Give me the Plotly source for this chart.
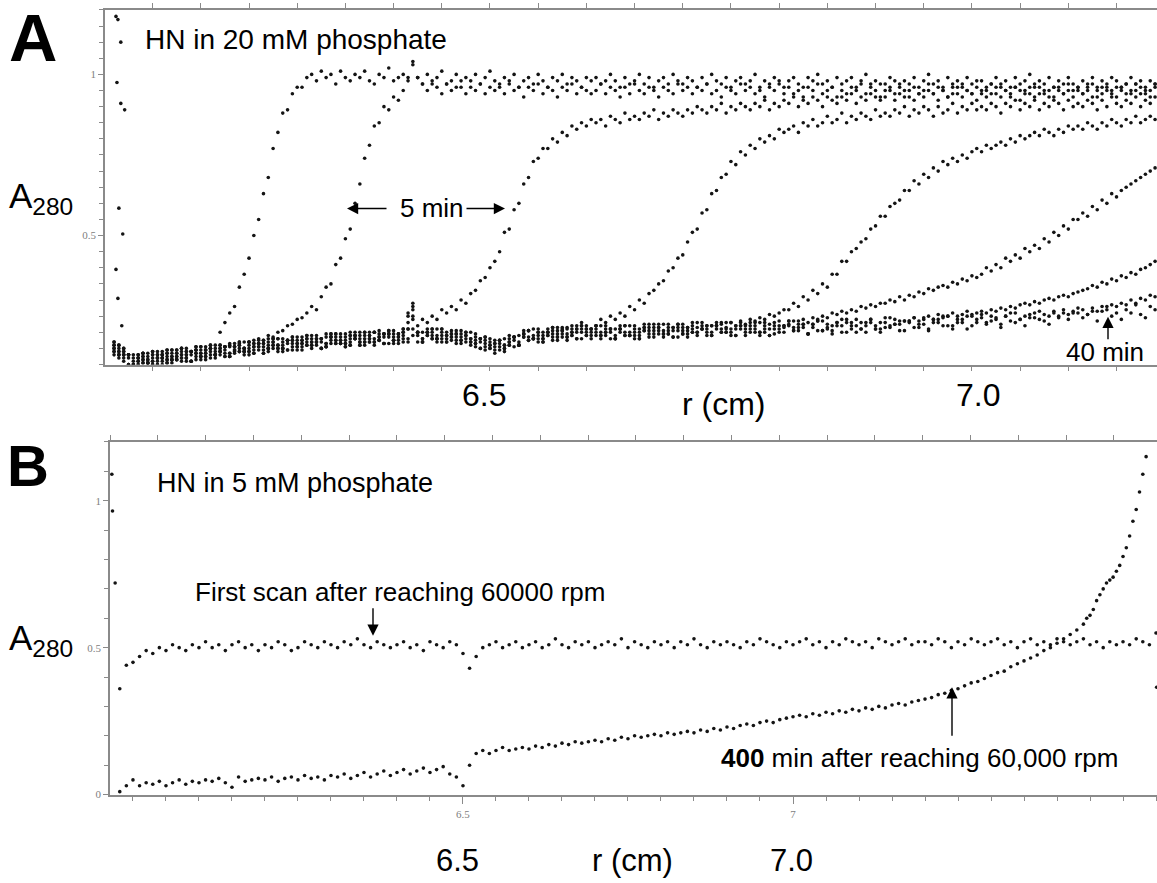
import plotly.graph_objects as go

W, H = 1157, 883

# ---------------- Panel A : HN in 20 mM phosphate (scans every 5 min) ----------------
r_grid_a = [
    6.110, 6.115, 6.120, 6.125, 6.130, 6.135, 6.140, 6.145, 6.150, 6.155, 6.160, 6.165, 6.170, 6.175, 6.180, 6.185, 6.190, 6.195, 6.200, 6.205,
    6.210, 6.215, 6.220, 6.225, 6.230, 6.235, 6.240, 6.245, 6.250, 6.255, 6.260, 6.265, 6.270, 6.275, 6.280, 6.285, 6.290, 6.295, 6.300, 6.305,
    6.310, 6.315, 6.320, 6.325, 6.330, 6.335, 6.340, 6.345, 6.350, 6.355, 6.360, 6.365, 6.370, 6.375, 6.380, 6.385, 6.390, 6.395, 6.400, 6.405,
    6.410, 6.415, 6.420, 6.425, 6.430, 6.435, 6.440, 6.445, 6.450, 6.455, 6.460, 6.465, 6.470, 6.475, 6.480, 6.485, 6.490, 6.495, 6.500, 6.505,
    6.510, 6.515, 6.520, 6.525, 6.530, 6.535, 6.540, 6.545, 6.550, 6.555, 6.560, 6.565, 6.570, 6.575, 6.580, 6.585, 6.590, 6.595, 6.600, 6.605,
    6.610, 6.615, 6.620, 6.625, 6.630, 6.635, 6.640, 6.645, 6.650, 6.655, 6.660, 6.665, 6.670, 6.675, 6.680, 6.685, 6.690, 6.695, 6.700, 6.705,
    6.710, 6.715, 6.720, 6.725, 6.730, 6.735, 6.740, 6.745, 6.750, 6.755, 6.760, 6.765, 6.770, 6.775, 6.780, 6.785, 6.790, 6.795, 6.800, 6.805,
    6.810, 6.815, 6.820, 6.825, 6.830, 6.835, 6.840, 6.845, 6.850, 6.855, 6.860, 6.865, 6.870, 6.875, 6.880, 6.885, 6.890, 6.895, 6.900, 6.905,
    6.910, 6.915, 6.920, 6.925, 6.930, 6.935, 6.940, 6.945, 6.950, 6.955, 6.960, 6.965, 6.970, 6.975, 6.980, 6.985, 6.990, 6.995, 7.000, 7.005,
    7.010, 7.015, 7.020, 7.025, 7.030, 7.035, 7.040, 7.045, 7.050, 7.055, 7.060, 7.065, 7.070, 7.075, 7.080, 7.085, 7.090, 7.095, 7.100, 7.105,
    7.110, 7.115, 7.120, 7.125, 7.130, 7.135, 7.140, 7.145, 7.150, 7.155, 7.160, 7.165, 7.170, 7.175, 7.180, 7.185, 7.190,
]

a_scan_00 = [
    0.16, 0.13, 0.15, 0.12, 0.09, 0.12, 0.105, 0.135, 0.11, 0.12, 0.13, 0.105, 0.135, 0.125, 0.15, 0.12, 0.11, 0.145, 0.135, 0.125,
    0.15, 0.13, 0.20, 0.23, 0.26, 0.28, 0.34, 0.38, 0.43, 0.50, 0.55, 0.63, 0.68, 0.77, 0.82, 0.88, 0.89, 0.94, 0.96, 0.96,
    0.99, 1.00, 0.98, 1.01, 0.99, 1.00, 0.97, 1.01, 0.99, 0.98, 1.00, 0.99, 1.01, 0.98, 0.97, 1.00, 0.99, 1.02, 0.98, 0.99,
    1.00, 0.98, 1.03, 0.99, 0.97, 1.00, 0.98, 0.99, 1.01, 0.97, 0.98, 1.00, 0.96, 0.99, 0.98, 1.00, 0.97, 0.99, 1.01, 0.98,
    0.97, 0.99, 0.98, 1.00, 0.96, 0.98, 0.99, 0.97, 1.00, 0.98, 0.96, 0.99, 0.98, 1.00, 0.97, 0.99, 0.98, 0.96, 0.99, 0.98,
    0.99, 0.97, 0.98, 1.00, 0.98, 0.96, 0.99, 0.97, 0.98, 1.00, 0.97, 0.99, 0.96, 0.98, 0.99, 0.97, 1.00, 0.98, 0.97, 0.99,
    0.98, 0.96, 0.99, 0.97, 1.00, 0.98, 0.97, 0.99, 0.96, 0.98, 0.99, 0.97, 0.98, 1.00, 0.96, 0.98, 0.97, 0.99, 0.98, 0.96,
    0.98, 0.99, 0.97, 0.96, 0.99, 0.98, 1.00, 0.97, 0.98, 0.96, 0.99, 0.97, 0.98, 0.99, 0.96, 0.98, 1.00, 0.97, 0.98, 0.97,
    0.97, 0.99, 0.98, 0.96, 0.98, 0.97, 0.99, 0.96, 0.98, 1.00, 0.97, 0.98, 0.96, 0.99, 0.97, 0.98, 0.96, 0.99, 0.97, 0.98,
    0.98, 0.96, 0.97, 0.99, 0.97, 0.98, 0.96, 0.99, 0.97, 0.98, 1.00, 0.96, 0.98, 0.97, 0.99, 0.96, 0.98, 0.97, 0.99, 0.97,
    0.96, 0.98, 0.97, 0.99, 0.96, 0.98, 0.97, 0.99, 0.98, 0.96, 0.97, 0.99, 0.97, 0.98, 0.96, 0.98, 0.97,
]

a_scan_05 = [
    0.14, 0.16, 0.13, 0.10, 0.12, 0.12, 0.105, 0.115, 0.14, 0.10, 0.12, 0.135, 0.115, 0.145, 0.12, 0.13, 0.14, 0.115, 0.155, 0.135,
    0.15, 0.13, 0.15, 0.135, 0.16, 0.14, 0.165, 0.15, 0.17, 0.165, 0.18, 0.175, 0.19, 0.185, 0.20, 0.205, 0.22, 0.225, 0.24, 0.245,
    0.26, 0.28, 0.27, 0.31, 0.34, 0.35, 0.41, 0.43, 0.49, 0.52, 0.60, 0.66, 0.74, 0.78, 0.84, 0.85, 0.90, 0.89, 0.93, 0.92,
    0.95, 0.99, 1.04, 0.99, 0.97, 0.95, 0.97, 0.96, 0.94, 0.97, 0.95, 0.96, 0.98, 0.94, 0.96, 0.95, 0.97, 0.94, 0.96, 0.95,
    0.96, 0.94, 0.97, 0.95, 0.96, 0.93, 0.96, 0.95, 0.97, 0.94, 0.96, 0.95, 0.93, 0.96, 0.95, 0.97, 0.94, 0.96, 0.95, 0.94,
    0.95, 0.97, 0.94, 0.96, 0.95, 0.93, 0.96, 0.94, 0.97, 0.95, 0.94, 0.96, 0.95, 0.93, 0.96, 0.95, 0.94, 0.97, 0.95, 0.96,
    0.94, 0.96, 0.95, 0.97, 0.94, 0.95, 0.93, 0.96, 0.95, 0.94, 0.97, 0.95, 0.96, 0.94, 0.95, 0.93, 0.96, 0.95, 0.97, 0.94,
    0.96, 0.94, 0.95, 0.93, 0.96, 0.95, 0.97, 0.94, 0.95, 0.96, 0.93, 0.95, 0.94, 0.96, 0.95, 0.97, 0.94, 0.96, 0.95, 0.93,
    0.95, 0.96, 0.94, 0.97, 0.95, 0.93, 0.96, 0.94, 0.95, 0.97, 0.94, 0.96, 0.95, 0.93, 0.96, 0.94, 0.97, 0.95, 0.94, 0.96,
    0.94, 0.95, 0.97, 0.94, 0.96, 0.95, 0.93, 0.96, 0.95, 0.94, 0.96, 0.97, 0.94, 0.95, 0.93, 0.96, 0.95, 0.94, 0.97, 0.95,
    0.96, 0.94, 0.95, 0.97, 0.93, 0.96, 0.95, 0.94, 0.96, 0.95, 0.97, 0.94, 0.95, 0.96, 0.94, 0.95, 0.97,
]

a_scan_10 = [
    0.15, 0.12, 0.14, 0.13, 0.10, 0.13, 0.115, 0.105, 0.10, 0.13, 0.14, 0.115, 0.125, 0.135, 0.12, 0.15, 0.11, 0.135, 0.145, 0.145,
    0.16, 0.14, 0.13, 0.155, 0.125, 0.145, 0.17, 0.14, 0.16, 0.145, 0.155, 0.175, 0.14, 0.17, 0.16, 0.15, 0.175, 0.185, 0.155, 0.145,
    0.18, 0.16, 0.19, 0.17, 0.155, 0.185, 0.165, 0.195, 0.165, 0.18, 0.19, 0.16, 0.19, 0.18, 0.20, 0.175, 0.165, 0.195, 0.185, 0.175,
    0.20, 0.25, 0.29, 0.22, 0.24, 0.23, 0.25, 0.24, 0.27, 0.26, 0.28, 0.27, 0.30, 0.29, 0.32, 0.33, 0.36, 0.37, 0.40, 0.42,
    0.45, 0.51, 0.52, 0.58, 0.60, 0.66, 0.68, 0.73, 0.74, 0.77, 0.77, 0.80, 0.79, 0.82, 0.81, 0.84, 0.83, 0.85, 0.84, 0.86,
    0.85, 0.86, 0.84, 0.87, 0.86, 0.85, 0.88, 0.86, 0.87, 0.86, 0.88, 0.87, 0.89, 0.86, 0.88, 0.87, 0.89, 0.88, 0.87, 0.89,
    0.88, 0.90, 0.89, 0.88, 0.90, 0.89, 0.91, 0.88, 0.90, 0.89, 0.91, 0.90, 0.89, 0.91, 0.90, 0.92, 0.89, 0.91, 0.90, 0.92,
    0.91, 0.93, 0.90, 0.92, 0.91, 0.93, 0.92, 0.90, 0.93, 0.92, 0.91, 0.93, 0.92, 0.94, 0.91, 0.93, 0.92, 0.94, 0.93, 0.92,
    0.93, 0.95, 0.92, 0.94, 0.93, 0.95, 0.92, 0.94, 0.93, 0.95, 0.94, 0.92, 0.95, 0.93, 0.94, 0.96, 0.93, 0.95, 0.94, 0.92,
    0.95, 0.93, 0.94, 0.96, 0.93, 0.95, 0.94, 0.96, 0.92, 0.95, 0.94, 0.93, 0.96, 0.94, 0.95, 0.93, 0.96, 0.94, 0.95, 0.93,
    0.95, 0.94, 0.96, 0.93, 0.95, 0.94, 0.96, 0.95, 0.93, 0.96, 0.94, 0.95, 0.97, 0.94, 0.95, 0.93, 0.96,
]

a_scan_15 = [
    0.17, 0.14, 0.12, 0.13, 0.09, 0.11, 0.135, 0.105, 0.13, 0.11, 0.12, 0.145, 0.105, 0.135, 0.13, 0.12, 0.14, 0.155, 0.125, 0.115,
    0.14, 0.12, 0.15, 0.155, 0.135, 0.165, 0.15, 0.14, 0.13, 0.165, 0.175, 0.145, 0.16, 0.17, 0.15, 0.18, 0.145, 0.165, 0.175, 0.175,
    0.16, 0.19, 0.17, 0.15, 0.185, 0.185, 0.165, 0.175, 0.195, 0.16, 0.18, 0.19, 0.17, 0.20, 0.17, 0.185, 0.195, 0.165, 0.205, 0.185,
    0.20, 0.23, 0.27, 0.19, 0.17, 0.20, 0.18, 0.21, 0.18, 0.19, 0.195, 0.165, 0.195, 0.18, 0.20, 0.165, 0.15, 0.175, 0.16, 0.145,
    0.175, 0.16, 0.16, 0.185, 0.16, 0.185, 0.205, 0.18, 0.20, 0.18, 0.20, 0.215, 0.185, 0.21, 0.21, 0.20, 0.22, 0.23, 0.21, 0.21,
    0.22, 0.24, 0.23, 0.25, 0.24, 0.26, 0.25, 0.28, 0.27, 0.30, 0.29, 0.32, 0.33, 0.35, 0.36, 0.39, 0.40, 0.43, 0.44, 0.48,
    0.51, 0.52, 0.57, 0.58, 0.63, 0.64, 0.68, 0.69, 0.73, 0.72, 0.76, 0.75, 0.78, 0.77, 0.80, 0.79, 0.81, 0.80, 0.83, 0.82,
    0.83, 0.84, 0.82, 0.85, 0.84, 0.86, 0.84, 0.85, 0.87, 0.85, 0.86, 0.88, 0.85, 0.87, 0.86, 0.88, 0.87, 0.86, 0.89, 0.87,
    0.88, 0.87, 0.89, 0.88, 0.90, 0.87, 0.89, 0.88, 0.90, 0.89, 0.87, 0.90, 0.88, 0.89, 0.91, 0.88, 0.90, 0.89, 0.91, 0.89,
    0.90, 0.89, 0.91, 0.90, 0.88, 0.91, 0.90, 0.92, 0.89, 0.91, 0.90, 0.92, 0.89, 0.91, 0.90, 0.92, 0.91, 0.89, 0.92, 0.90,
    0.91, 0.90, 0.92, 0.91, 0.89, 0.92, 0.90, 0.93, 0.91, 0.90, 0.92, 0.91, 0.93, 0.90, 0.92, 0.91, 0.93,
]

a_scan_20 = [
    0.15, 0.16, 0.11, 0.13, 0.11, 0.10, 0.135, 0.105, 0.13, 0.12, 0.10, 0.145, 0.125, 0.115, 0.14, 0.14, 0.11, 0.135, 0.155, 0.125,
    0.15, 0.13, 0.16, 0.145, 0.125, 0.155, 0.14, 0.17, 0.14, 0.155, 0.165, 0.135, 0.17, 0.16, 0.18, 0.15, 0.145, 0.175, 0.165, 0.155,
    0.19, 0.17, 0.16, 0.18, 0.155, 0.175, 0.195, 0.165, 0.185, 0.17, 0.18, 0.20, 0.16, 0.19, 0.18, 0.175, 0.195, 0.205, 0.175, 0.165,
    0.19, 0.17, 0.25, 0.20, 0.18, 0.21, 0.19, 0.18, 0.17, 0.20, 0.205, 0.175, 0.185, 0.19, 0.17, 0.195, 0.15, 0.165, 0.17, 0.165,
    0.145, 0.18, 0.17, 0.155, 0.19, 0.195, 0.175, 0.19, 0.21, 0.17, 0.19, 0.205, 0.185, 0.215, 0.185, 0.20, 0.21, 0.18, 0.22, 0.20,
    0.21, 0.19, 0.22, 0.20, 0.18, 0.21, 0.19, 0.22, 0.19, 0.20, 0.215, 0.185, 0.215, 0.205, 0.225, 0.195, 0.185, 0.215, 0.205, 0.195,
    0.20, 0.215, 0.21, 0.20, 0.22, 0.21, 0.225, 0.215, 0.23, 0.22, 0.235, 0.225, 0.24, 0.235, 0.245, 0.24, 0.255, 0.25, 0.26, 0.27,
    0.27, 0.29, 0.28, 0.31, 0.30, 0.33, 0.32, 0.35, 0.34, 0.38, 0.38, 0.42, 0.42, 0.45, 0.46, 0.48, 0.49, 0.52, 0.53, 0.56,
    0.56, 0.59, 0.60, 0.61, 0.64, 0.64, 0.67, 0.66, 0.69, 0.68, 0.71, 0.70, 0.73, 0.72, 0.74, 0.73, 0.75, 0.74, 0.76, 0.77,
    0.76, 0.78, 0.77, 0.78, 0.79, 0.78, 0.80, 0.79, 0.81, 0.80, 0.81, 0.82, 0.81, 0.83, 0.82, 0.81, 0.83, 0.82, 0.84, 0.83,
    0.84, 0.83, 0.85, 0.84, 0.83, 0.85, 0.84, 0.86, 0.85, 0.84, 0.86, 0.85, 0.87, 0.85, 0.86, 0.87, 0.86,
]

a_scan_25 = [
    0.14, 0.14, 0.14, 0.10, 0.10, 0.13, 0.115, 0.125, 0.10, 0.13, 0.12, 0.115, 0.145, 0.115, 0.15, 0.13, 0.11, 0.145, 0.125, 0.145,
    0.13, 0.16, 0.14, 0.125, 0.155, 0.155, 0.14, 0.15, 0.17, 0.135, 0.155, 0.165, 0.15, 0.18, 0.15, 0.16, 0.175, 0.145, 0.185, 0.165,
    0.17, 0.15, 0.18, 0.18, 0.165, 0.195, 0.175, 0.165, 0.155, 0.19, 0.20, 0.17, 0.18, 0.19, 0.17, 0.205, 0.165, 0.185, 0.195, 0.195,
    0.21, 0.21, 0.28, 0.20, 0.17, 0.19, 0.21, 0.18, 0.20, 0.18, 0.185, 0.205, 0.165, 0.19, 0.18, 0.165, 0.18, 0.185, 0.15, 0.135,
    0.155, 0.14, 0.18, 0.185, 0.17, 0.205, 0.185, 0.18, 0.17, 0.20, 0.21, 0.185, 0.195, 0.205, 0.185, 0.22, 0.18, 0.20, 0.21, 0.21,
    0.22, 0.20, 0.19, 0.21, 0.18, 0.20, 0.22, 0.19, 0.21, 0.19, 0.205, 0.225, 0.185, 0.215, 0.205, 0.195, 0.215, 0.225, 0.195, 0.185,
    0.20, 0.23, 0.21, 0.19, 0.22, 0.22, 0.20, 0.21, 0.23, 0.19, 0.21, 0.22, 0.20, 0.23, 0.20, 0.21, 0.225, 0.195, 0.235, 0.215,
    0.22, 0.235, 0.225, 0.24, 0.23, 0.245, 0.24, 0.25, 0.245, 0.26, 0.255, 0.265, 0.26, 0.27, 0.265, 0.28, 0.275, 0.285, 0.28, 0.29,
    0.29, 0.30, 0.295, 0.31, 0.30, 0.315, 0.31, 0.325, 0.32, 0.335, 0.33, 0.34, 0.345, 0.34, 0.355, 0.35, 0.365, 0.36, 0.375, 0.37,
    0.38, 0.40, 0.39, 0.41, 0.40, 0.43, 0.42, 0.44, 0.43, 0.46, 0.45, 0.47, 0.46, 0.49, 0.48, 0.51, 0.50, 0.53, 0.52, 0.55,
    0.55, 0.57, 0.56, 0.59, 0.58, 0.61, 0.60, 0.63, 0.62, 0.64, 0.65, 0.66, 0.67, 0.68, 0.69, 0.70, 0.71,
]

a_scan_30 = [
    0.16, 0.15, 0.13, 0.10, 0.13, 0.10, 0.125, 0.115, 0.11, 0.14, 0.13, 0.105, 0.115, 0.125, 0.15, 0.12, 0.14, 0.145, 0.115, 0.135,
    0.15, 0.15, 0.14, 0.125, 0.165, 0.135, 0.16, 0.15, 0.14, 0.175, 0.165, 0.135, 0.15, 0.16, 0.18, 0.15, 0.175, 0.175, 0.145, 0.165,
    0.16, 0.17, 0.18, 0.15, 0.165, 0.195, 0.175, 0.185, 0.155, 0.19, 0.18, 0.17, 0.20, 0.17, 0.20, 0.185, 0.165, 0.195, 0.175, 0.195,
    0.18, 0.21, 0.24, 0.17, 0.20, 0.20, 0.18, 0.19, 0.21, 0.17, 0.185, 0.195, 0.175, 0.20, 0.17, 0.175, 0.18, 0.145, 0.18, 0.155,
    0.165, 0.15, 0.19, 0.175, 0.16, 0.195, 0.175, 0.21, 0.18, 0.19, 0.20, 0.175, 0.205, 0.195, 0.215, 0.19, 0.18, 0.21, 0.20, 0.19,
    0.20, 0.18, 0.21, 0.21, 0.19, 0.22, 0.20, 0.19, 0.18, 0.21, 0.225, 0.195, 0.205, 0.215, 0.195, 0.225, 0.185, 0.205, 0.215, 0.215,
    0.22, 0.20, 0.23, 0.21, 0.19, 0.22, 0.20, 0.23, 0.20, 0.21, 0.22, 0.19, 0.22, 0.21, 0.23, 0.20, 0.19, 0.22, 0.21, 0.20,
    0.235, 0.215, 0.205, 0.225, 0.195, 0.215, 0.235, 0.205, 0.225, 0.205, 0.22, 0.24, 0.20, 0.23, 0.22, 0.21, 0.23, 0.24, 0.21, 0.20,
    0.23, 0.22, 0.24, 0.225, 0.235, 0.23, 0.245, 0.235, 0.24, 0.25, 0.24, 0.255, 0.245, 0.25, 0.26, 0.25, 0.255, 0.265, 0.255, 0.26,
    0.265, 0.26, 0.27, 0.265, 0.275, 0.27, 0.28, 0.275, 0.285, 0.29, 0.285, 0.295, 0.29, 0.30, 0.305, 0.30, 0.31, 0.315, 0.31, 0.32,
    0.325, 0.33, 0.335, 0.345, 0.34, 0.355, 0.35, 0.365, 0.36, 0.375, 0.37, 0.385, 0.38, 0.395, 0.40, 0.41, 0.42,
]

a_scan_35 = [
    0.13, 0.13, 0.15, 0.13, 0.10, 0.11, 0.125, 0.095, 0.14, 0.12, 0.11, 0.135, 0.115, 0.145, 0.13, 0.11, 0.14, 0.125, 0.135, 0.155,
    0.12, 0.13, 0.16, 0.155, 0.135, 0.145, 0.16, 0.13, 0.17, 0.155, 0.145, 0.165, 0.15, 0.18, 0.16, 0.14, 0.175, 0.155, 0.165, 0.185,
    0.18, 0.18, 0.17, 0.15, 0.195, 0.165, 0.185, 0.175, 0.165, 0.20, 0.19, 0.16, 0.17, 0.18, 0.20, 0.175, 0.195, 0.195, 0.165, 0.185,
    0.17, 0.26, 0.21, 0.20, 0.18, 0.19, 0.20, 0.17, 0.21, 0.19, 0.175, 0.195, 0.175, 0.20, 0.18, 0.155, 0.18, 0.155, 0.16, 0.175,
    0.175, 0.16, 0.16, 0.185, 0.16, 0.185, 0.205, 0.18, 0.20, 0.18, 0.19, 0.215, 0.175, 0.205, 0.195, 0.19, 0.21, 0.22, 0.19, 0.18,
    0.19, 0.22, 0.20, 0.18, 0.21, 0.21, 0.19, 0.20, 0.22, 0.18, 0.205, 0.215, 0.195, 0.225, 0.195, 0.205, 0.215, 0.185, 0.225, 0.205,
    0.21, 0.19, 0.22, 0.22, 0.20, 0.23, 0.21, 0.20, 0.19, 0.22, 0.23, 0.20, 0.21, 0.22, 0.20, 0.23, 0.19, 0.21, 0.22, 0.22,
    0.225, 0.205, 0.235, 0.215, 0.195, 0.225, 0.205, 0.235, 0.21, 0.22, 0.23, 0.20, 0.23, 0.22, 0.24, 0.21, 0.20, 0.23, 0.22, 0.21,
    0.215, 0.245, 0.225, 0.205, 0.235, 0.235, 0.215, 0.225, 0.245, 0.21, 0.23, 0.24, 0.22, 0.25, 0.22, 0.23, 0.24, 0.21, 0.25, 0.23,
    0.245, 0.23, 0.25, 0.24, 0.225, 0.25, 0.235, 0.26, 0.24, 0.25, 0.245, 0.26, 0.24, 0.255, 0.25, 0.265, 0.245, 0.26, 0.255, 0.265,
    0.26, 0.27, 0.255, 0.275, 0.265, 0.28, 0.27, 0.285, 0.28, 0.29, 0.285, 0.30, 0.29, 0.305, 0.30, 0.315, 0.31,
]

a_scan_40 = [
    0.17, 0.13, 0.13, 0.13, 0.09, 0.12, 0.135, 0.105, 0.12, 0.10, 0.13, 0.125, 0.145, 0.115, 0.11, 0.14, 0.13, 0.155, 0.125, 0.145,
    0.16, 0.13, 0.14, 0.155, 0.125, 0.155, 0.17, 0.14, 0.15, 0.135, 0.165, 0.155, 0.18, 0.15, 0.14, 0.17, 0.165, 0.185, 0.155, 0.175,
    0.19, 0.16, 0.17, 0.18, 0.155, 0.185, 0.195, 0.165, 0.175, 0.16, 0.19, 0.18, 0.20, 0.17, 0.16, 0.195, 0.185, 0.205, 0.175, 0.195,
    0.21, 0.18, 0.19, 0.20, 0.17, 0.20, 0.21, 0.18, 0.19, 0.17, 0.195, 0.185, 0.205, 0.17, 0.16, 0.185, 0.17, 0.185, 0.15, 0.165,
    0.175, 0.15, 0.17, 0.185, 0.16, 0.195, 0.205, 0.18, 0.19, 0.17, 0.20, 0.195, 0.215, 0.185, 0.175, 0.21, 0.20, 0.22, 0.19, 0.21,
    0.22, 0.19, 0.20, 0.21, 0.18, 0.21, 0.22, 0.19, 0.20, 0.18, 0.215, 0.205, 0.225, 0.195, 0.185, 0.215, 0.205, 0.225, 0.195, 0.215,
    0.23, 0.20, 0.21, 0.22, 0.19, 0.22, 0.23, 0.20, 0.21, 0.19, 0.22, 0.21, 0.23, 0.20, 0.19, 0.22, 0.21, 0.23, 0.20, 0.22,
    0.235, 0.205, 0.215, 0.225, 0.195, 0.225, 0.235, 0.205, 0.215, 0.195, 0.23, 0.22, 0.24, 0.21, 0.20, 0.23, 0.22, 0.24, 0.21, 0.23,
    0.245, 0.215, 0.225, 0.235, 0.205, 0.235, 0.245, 0.215, 0.225, 0.205, 0.24, 0.23, 0.25, 0.22, 0.21, 0.24, 0.23, 0.25, 0.22, 0.24,
    0.255, 0.225, 0.235, 0.245, 0.215, 0.25, 0.26, 0.23, 0.24, 0.22, 0.255, 0.245, 0.265, 0.235, 0.225, 0.26, 0.25, 0.27, 0.24, 0.26,
    0.275, 0.245, 0.255, 0.265, 0.235, 0.265, 0.28, 0.25, 0.26, 0.24, 0.27, 0.26, 0.285, 0.255, 0.245, 0.28, 0.27,
]

meniscus_a_r = [6.112, 6.114, 6.117, 6.113, 6.117, 6.115, 6.119, 6.112, 6.114, 6.118, 6.121]
meniscus_a_val = [1.18, 1.17, 1.10, 0.975, 0.91, 0.585, 0.505, 0.395, 0.305, 0.22, 0.89]

scans_a = [a_scan_00, a_scan_05, a_scan_10, a_scan_15, a_scan_20,
           a_scan_25, a_scan_30, a_scan_35, a_scan_40]

# ---------------- Panel B : HN in 5 mM phosphate ----------------
r_grid_b = [
    5.98, 5.99,
    6.00, 6.01, 6.02, 6.03, 6.04, 6.05, 6.06, 6.07, 6.08, 6.09,
    6.10, 6.11, 6.12, 6.13, 6.14, 6.15, 6.16, 6.17, 6.18, 6.19,
    6.20, 6.21, 6.22, 6.23, 6.24, 6.25, 6.26, 6.27, 6.28, 6.29,
    6.30, 6.31, 6.32, 6.33, 6.34, 6.35, 6.36, 6.37, 6.38, 6.39,
    6.40, 6.41, 6.42, 6.43, 6.44, 6.45, 6.46, 6.47, 6.48, 6.49,
    6.50, 6.51, 6.52, 6.53, 6.54, 6.55, 6.56, 6.57, 6.58, 6.59,
    6.60, 6.61, 6.62, 6.63, 6.64, 6.65, 6.66, 6.67, 6.68, 6.69,
    6.70, 6.71, 6.72, 6.73, 6.74, 6.75, 6.76, 6.77, 6.78, 6.79,
    6.80, 6.81, 6.82, 6.83, 6.84, 6.85, 6.86, 6.87, 6.88, 6.89,
    6.90, 6.91, 6.92, 6.93, 6.94, 6.95, 6.96, 6.97, 6.98, 6.99,
    7.00, 7.01, 7.02, 7.03, 7.04, 7.05, 7.06, 7.07, 7.08, 7.09,
    7.10, 7.11, 7.12, 7.13, 7.14, 7.15, 7.16, 7.17, 7.18, 7.19,
    7.20, 7.21, 7.22, 7.23, 7.24, 7.25, 7.26, 7.27, 7.28, 7.29,
    7.30, 7.31, 7.32, 7.33, 7.34, 7.35, 7.36, 7.37, 7.38, 7.39,
    7.40, 7.41, 7.42, 7.43, 7.44, 7.45, 7.46, 7.47, 7.48, 7.49,
    7.50, 7.51, 7.52, 7.53, 7.54, 7.55,
]

b_first_scan = [
    0.36, 0.44,
    0.45, 0.47, 0.49, 0.48, 0.50, 0.49, 0.51, 0.50, 0.49, 0.51,
    0.50, 0.52, 0.50, 0.51, 0.49, 0.51, 0.52, 0.50, 0.51, 0.49,
    0.51, 0.50, 0.52, 0.51, 0.49, 0.50, 0.52, 0.51, 0.50, 0.52,
    0.51, 0.50, 0.52, 0.51, 0.53, 0.51, 0.50, 0.52, 0.51, 0.50,
    0.51, 0.52, 0.50, 0.51, 0.49, 0.52, 0.51, 0.50, 0.52, 0.51,
    0.48, 0.43, 0.47, 0.50, 0.51, 0.52, 0.50, 0.51, 0.52, 0.50,
    0.51, 0.52, 0.50, 0.51, 0.53, 0.51, 0.50, 0.52, 0.51, 0.52,
    0.50, 0.51, 0.52, 0.51, 0.53, 0.50, 0.52, 0.51, 0.50, 0.52,
    0.51, 0.52, 0.50, 0.52, 0.51, 0.53, 0.51, 0.50, 0.52, 0.51,
    0.52, 0.51, 0.50, 0.52, 0.51, 0.53, 0.52, 0.51, 0.50, 0.52,
    0.51, 0.52, 0.53, 0.51, 0.52, 0.50, 0.52, 0.51, 0.53, 0.52,
    0.51, 0.52, 0.50, 0.53, 0.52, 0.51, 0.52, 0.53, 0.51, 0.52,
    0.52, 0.51, 0.53, 0.52, 0.50, 0.52, 0.51, 0.53, 0.52, 0.51,
    0.52, 0.53, 0.51, 0.52, 0.50, 0.52, 0.53, 0.51, 0.52, 0.51,
    0.53, 0.52, 0.51, 0.52, 0.53, 0.51, 0.52, 0.50, 0.52, 0.51,
    0.52, 0.51, 0.53, 0.52, 0.51, 0.55,
]

# 400 min scan: same radial grid up to 7.43 cm, then a finer tail near the cell bottom
r_tail_b = [7.44, 7.445, 7.45, 7.455, 7.46, 7.465, 7.47, 7.475, 7.48, 7.485,
            7.49, 7.495, 7.50, 7.505, 7.51, 7.515, 7.52, 7.525, 7.53, 7.535]

b_scan_400 = [
    0.01, 0.03,
    0.05, 0.03, 0.04, 0.035, 0.045, 0.03, 0.04, 0.05, 0.035, 0.045,
    0.04, 0.05, 0.045, 0.055, 0.04, 0.025, 0.06, 0.045, 0.05, 0.055,
    0.05, 0.06, 0.045, 0.055, 0.06, 0.05, 0.065, 0.055, 0.06, 0.05,
    0.065, 0.06, 0.07, 0.055, 0.065, 0.075, 0.06, 0.07, 0.08, 0.065,
    0.075, 0.085, 0.07, 0.08, 0.09, 0.075, 0.085, 0.095, 0.07, 0.06,
    0.03, 0.10, 0.14, 0.15, 0.14, 0.15, 0.16, 0.15, 0.155, 0.16,
    0.155, 0.165, 0.16, 0.17, 0.165, 0.175, 0.17, 0.18, 0.175, 0.18,
    0.185, 0.18, 0.19, 0.185, 0.195, 0.19, 0.20, 0.195, 0.20, 0.205,
    0.20, 0.21, 0.205, 0.21, 0.215, 0.21, 0.22, 0.215, 0.225, 0.22,
    0.23, 0.225, 0.235, 0.24, 0.235, 0.245, 0.25, 0.245, 0.255, 0.26,
    0.265, 0.27, 0.265, 0.275, 0.27, 0.28, 0.275, 0.285, 0.28, 0.29,
    0.285, 0.295, 0.29, 0.30, 0.295, 0.305, 0.31, 0.305, 0.315, 0.32,
    0.325, 0.33, 0.34, 0.345, 0.355, 0.36, 0.37, 0.38, 0.385, 0.395,
    0.405, 0.415, 0.42, 0.435, 0.445, 0.455, 0.465, 0.475, 0.49, 0.50,
    0.515, 0.53, 0.545, 0.56,
]
b_tail_400 = [0.58, 0.60, 0.61, 0.63, 0.66, 0.68, 0.70, 0.72, 0.73, 0.74,
              0.76, 0.78, 0.81, 0.84, 0.88, 0.93, 0.97, 1.03, 1.09, 1.15]

meniscus_b_r = [5.968, 5.969, 5.973, 7.551]
meniscus_b_val = [1.09, 0.965, 0.72, 0.365]

# ---------------- styling ----------------
SANS = "Liberation Sans, Arial, Helvetica, sans-serif"
NARROW = "Liberation Sans Narrow, Arial Narrow, Liberation Sans, Arial, sans-serif"
SERIF = "Liberation Serif, Times New Roman, serif"
AX = "#8a8a8a"
DOT = dict(size=3.6, color="#141414")

fig = go.Figure()

for vals in scans_a:
    fig.add_trace(go.Scatter(x=r_grid_a[:len(vals)], y=vals, mode="markers",
                             marker=DOT, xaxis="x", yaxis="y", showlegend=False,
                             hoverinfo="skip"))
fig.add_trace(go.Scatter(x=meniscus_a_r, y=meniscus_a_val, mode="markers",
                         marker=DOT, xaxis="x", yaxis="y", showlegend=False,
                         hoverinfo="skip"))

fig.add_trace(go.Scatter(x=r_grid_b[:len(b_first_scan)], y=b_first_scan, mode="markers",
                         marker=DOT, xaxis="x2", yaxis="y2", showlegend=False,
                         hoverinfo="skip"))
fig.add_trace(go.Scatter(x=r_grid_b[:len(b_scan_400)] + r_tail_b,
                         y=b_scan_400 + b_tail_400, mode="markers",
                         marker=DOT, xaxis="x2", yaxis="y2", showlegend=False,
                         hoverinfo="skip"))
fig.add_trace(go.Scatter(x=meniscus_b_r, y=meniscus_b_val, mode="markers",
                         marker=DOT, xaxis="x2", yaxis="y2", showlegend=False,
                         hoverinfo="skip", cliponaxis=False))
# carrier for the top tick row of panel B
fig.add_trace(go.Scatter(x=[None], y=[None], mode="markers", xaxis="x3", yaxis="y2",
                         showlegend=False, hoverinfo="skip"))

axis_common = dict(showline=True, linecolor=AX, linewidth=1.5, showgrid=False,
                   zeroline=False, ticks="outside", tickcolor=AX, tickwidth=1)
tickfont = dict(family=SERIF, size=11, color="#808080")

fig.update_layout(
    width=W, height=H,
    margin=dict(l=0, r=0, t=0, b=0),
    paper_bgcolor="white", plot_bgcolor="white",
    showlegend=False,
    xaxis=dict(domain=[105 / W, 1], range=[6.1006, 7.192], anchor="y",
               mirror="ticks", ticklen=5, dtick=0.05, tick0=0,
               showticklabels=False, **axis_common),
    yaxis=dict(domain=[(H - 367) / H, (H - 10) / H], range=[0.1, 1.2], anchor="x",
               ticklen=5, dtick=0.5, tick0=0, tickfont=tickfont,
               minor=dict(dtick=0.05, tick0=0, ticks="outside", ticklen=4,
                          tickcolor=AX),
               **axis_common),
    xaxis2=dict(domain=[110 / W, 1], range=[5.9652, 7.5515], anchor="y2",
                ticklen=8, tickmode="array", tickvals=[6.5, 7.0], ticktext=["6.5", "7"],
                tickfont=tickfont,
                minor=dict(dtick=0.05, tick0=0, ticks="outside", ticklen=5,
                           tickcolor=AX),
                **axis_common),
    xaxis3=dict(overlaying="x2", anchor="y2", side="top", range=[0, 21.9],
                ticklen=5, dtick=1, tick0=0, showticklabels=False, **axis_common),
    yaxis2=dict(domain=[(H - 800) / H, (H - 445) / H], range=[0, 1.2], anchor="x2",
                ticklen=5, dtick=0.5, tick0=0, tickfont=tickfont,
                minor=dict(dtick=0.1, tick0=0, ticks="outside", ticklen=4,
                           tickcolor=AX),
                **axis_common),
)


def txt(s, x, y, size, xanchor="center", yanchor="middle", family=SANS):
    return dict(text=s, x=x / W, y=1 - y / H, xref="paper", yref="paper",
                xanchor=xanchor, yanchor=yanchor, showarrow=False,
                font=dict(family=family, size=size, color="black"))


def arrow(tip_x, tip_y, tail_x, tail_y):
    return dict(text="", x=tip_x / W, y=1 - tip_y / H, xref="paper", yref="paper",
                ax=tail_x - tip_x, ay=tail_y - tip_y, axref="pixel", ayref="pixel",
                showarrow=True, arrowhead=2, arrowsize=1.6, arrowwidth=1.4,
                arrowcolor="black", standoff=0, startstandoff=0)


annotations = [
    txt("<b>A</b>", 32.5, 38, 67),
    txt("<b>B</b>", 27.5, 469, 58),
    txt("HN in 20 mM phosphate", 143, 40, 28, xanchor="left"),
    txt("HN in 5 mM phosphate", 155, 486, 27, xanchor="left"),
    txt("A<sub>280</sub>", 7, 199, 35, xanchor="left"),
    txt("A<sub>280</sub>", 7, 644, 35, xanchor="left"),
    txt("5 min", 432, 209, 26),
    arrow(347, 210, 388, 210),
    arrow(505, 210, 465, 210),
    txt("40 min", 1105, 354, 26),
    arrow(1108, 319, 1108, 343),
    txt("6.5", 484, 398, 32),
    txt("r (cm)", 724, 407, 32),
    txt("7.0", 978, 398, 32),
    txt("First scan after reaching 60000 rpm", 193, 596, 26, xanchor="left"),
    arrow(373, 640, 373, 611),
    txt("<b>400</b> min after reaching 60,000 rpm", 1120, 763, 26, xanchor="right"),
    arrow(952, 692, 952, 742),
    txt("6.5", 457, 866, 31, family=NARROW),
    txt("r (cm)", 632, 866, 31, family=NARROW),
    txt("7.0", 791, 866, 31, family=NARROW),
]
fig.update_layout(annotations=annotations)

fig.write_html("out.html")
